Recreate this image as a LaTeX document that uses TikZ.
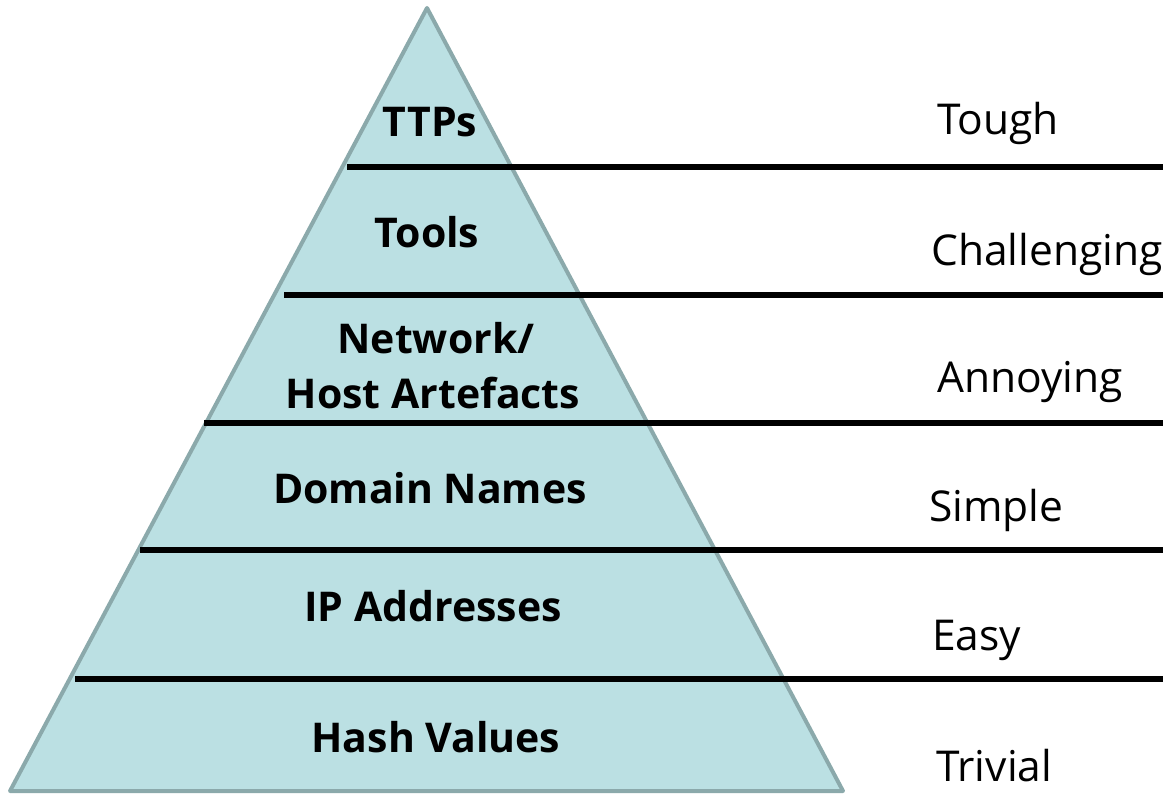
\documentclass[tikz,border=0pt]{standalone}
\usepackage{fontspec}
\setmainfont{Open Sans}
\definecolor{pyrfill}{HTML}{BBE0E3}
\definecolor{pyredge}{HTML}{8BA9AB}
\begin{document}
\begin{tikzpicture}[x=1pt,y=-1pt,
  level/.style={font=\bfseries\fontsize{41}{48}\selectfont, anchor=base, inner sep=0pt},
  rank/.style={font=\fontsize{42.5}{50}\selectfont, anchor=base west, inner sep=0pt},
  divider/.style={line width=5.5pt, black}]
\useasboundingbox (0,0) rectangle (1170,794);
% pyramid body
\coordinate (apex) at (427,8);
\coordinate (bl) at (10,791);
\coordinate (br) at (843,791);
\draw[fill=pyrfill, draw=pyredge, line width=4pt, line join=round] (apex) -- (br) -- (bl) -- cycle;
% dividers between the levels
\foreach \x/\y/\n in {347/167/a,284/295/b,204/423/c,140/550/d,75/679/e}{
  \coordinate (l\n) at (\x,\y);
  \coordinate (r\n) at (1163,\y);
  \draw[divider] (l\n) -- (r\n);
}
% level labels
\node[level] (ttps) at (430,137) {TTPs};
\node[level] (tools) at (427,248) {Tools};
\node[level] (net) at (436,353) {Network/};
\node[level] (host) at (433,408) {Host Artefacts};
\node[level] (dom) at (430,503) {Domain Names};
\node[level] (ip) at (433,621) {IP Addresses};
\node[level] (hash) at (436,752) {Hash Values};
% difficulty labels
\node[rank] (tough) at (937,135) {Tough};
\node[rank] (chal) at (931,266) {Challenging};
\node[rank] (ann) at (937,392) {Annoying};
\node[rank] (simp) at (929,521) {Simple};
\node[rank] (easy) at (932,650) {Easy};
\node[rank] (triv) at (936,781) {Trivial};
\end{tikzpicture}
\end{document}
